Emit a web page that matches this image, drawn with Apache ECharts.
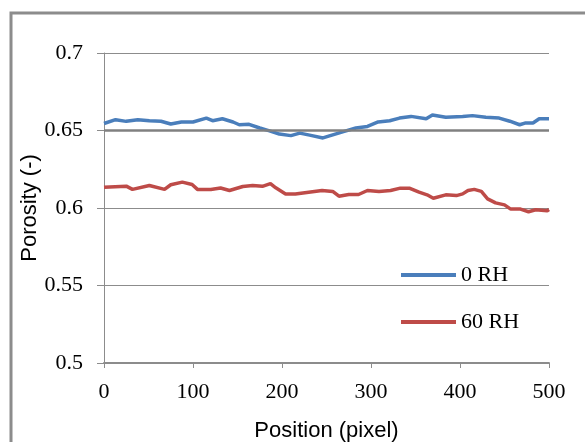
<!DOCTYPE html>
<html>
<head>
<meta charset="utf-8">
<script src="https://cdn.jsdelivr.net/npm/echarts@6/dist/echarts.min.js"></script>
<style>
  html, body { margin: 0; padding: 0; background: #fff; }
  #main { width: 585px; height: 442px; }
</style>
</head>
<body>
<div id="main"></div>
<script>
// values
var seriesNames = ['0 RH', '60 RH'];
var xTicks = [0, 100, 200, 300, 400, 500];
var yTicks = [0.5, 0.55, 0.6, 0.65, 0.7];

var pos0RH = [0, 13, 25, 38, 51, 64, 75, 87, 100, 115, 122, 133, 145, 152, 163, 175, 186, 197, 210, 220,
  231, 246, 257, 270, 283, 296, 308, 321, 332, 345, 362, 369, 384, 403, 414, 429, 444, 456, 467, 473,
  482, 489, 500];
var por0RH = [0.6545, 0.657, 0.6559, 0.657, 0.6563, 0.656, 0.6542, 0.6555, 0.6555, 0.658, 0.6563, 0.6576,
  0.6555, 0.6537, 0.654, 0.6516, 0.6498, 0.6477, 0.6467, 0.6483, 0.647, 0.6452, 0.6472, 0.6494, 0.6516,
  0.6526, 0.6555, 0.6563, 0.658, 0.6591, 0.6576, 0.660, 0.6585, 0.659, 0.6596, 0.6585, 0.658, 0.656,
  0.6537, 0.6548, 0.6548, 0.6576, 0.6576];

var pos60RH = [0, 25, 32, 51, 68, 75, 88, 99, 105, 120, 131, 141, 156, 167, 178, 187, 193, 204, 215, 230,
  245, 257, 264, 275, 286, 296, 309, 322, 333, 343, 354, 363, 370, 384, 396, 403, 409, 416, 424, 431,
  440, 450, 457, 468, 477, 485, 498, 500];
var por60RH = [0.6134, 0.6141, 0.612, 0.6145, 0.612, 0.615, 0.6167, 0.6152, 0.612, 0.612, 0.6129, 0.6113,
  0.6139, 0.6145, 0.614, 0.6157, 0.613, 0.6091, 0.6091, 0.6102, 0.6113, 0.6107, 0.6076, 0.6087, 0.6087,
  0.6113, 0.6107, 0.6113, 0.6128, 0.6128, 0.6102, 0.6085, 0.6063, 0.6085, 0.608, 0.6091, 0.6113, 0.612,
  0.6107, 0.6059, 0.6033, 0.602, 0.5993, 0.5993, 0.5976, 0.5989, 0.5982, 0.599];

function pairs(xs, ys) {
  var out = [];
  for (var i = 0; i < xs.length; i++) out.push([xs[i], ys[i]]);
  return out;
}

var chart = echarts.init(document.getElementById('main'));
var tickFont = { fontFamily: 'Liberation Serif', fontSize: 22, color: '#000' };

chart.setOption({
  animation: false,
  backgroundColor: '#fff',
  graphic: [{
    type: 'rect',
    shape: { x: 11, y: 13, width: 620, height: 480 },
    style: { fill: 'none', stroke: '#8c8c8c', lineWidth: 3 },
    silent: true
  }],
  grid: { left: 104, right: 36, top: 53, bottom: 79, containLabel: false, outerBoundsMode: 'none' },
  legend: {
    data: seriesNames,
    orient: 'vertical',
    left: 401,
    top: 264,
    padding: 0,
    icon: 'rect',
    itemWidth: 55,
    itemHeight: 4,
    itemGap: 25,
    textStyle: { fontFamily: 'Liberation Serif', fontSize: 22, color: '#000' }
  },
  xAxis: {
    type: 'value',
    min: xTicks[0],
    max: xTicks[xTicks.length - 1],
    interval: 100,
    name: 'Position (pixel)',
    nameLocation: 'middle',
    nameGap: 57,
    nameMoveOverlap: false,
    nameTextStyle: { fontFamily: 'Liberation Sans', fontSize: 22, color: '#000' },
    axisLine: { lineStyle: { color: '#8c8c8c', width: 2 } },
    axisTick: { show: true, length: 5, lineStyle: { color: '#8c8c8c' } },
    axisLabel: Object.assign({ margin: 18 }, tickFont),
    splitLine: { show: false }
  },
  yAxis: {
    type: 'value',
    min: yTicks[0],
    max: yTicks[yTicks.length - 1],
    interval: 0.05,
    name: 'Porosity (-)',
    nameLocation: 'middle',
    nameGap: 63,
    nameMoveOverlap: false,
    nameTextStyle: { fontFamily: 'Liberation Sans', fontSize: 22, color: '#000' },
    axisLine: { show: true, lineStyle: { color: '#8c8c8c', width: 1 } },
    axisTick: { show: true, length: 7, lineStyle: { color: '#8c8c8c' } },
    axisLabel: Object.assign({ margin: 21 }, tickFont),
    splitLine: { show: true, lineStyle: { color: '#8c8c8c', width: 1 } }
  },
  series: [{
    name: seriesNames[0],
    type: 'line',
    data: pairs(pos0RH, por0RH),
    showSymbol: false,
    z: 3,
    lineStyle: { color: '#4a7ebb', width: 3.5 },
    itemStyle: { color: '#4a7ebb' }
  }, {
    name: seriesNames[1],
    type: 'line',
    data: pairs(pos60RH, por60RH),
    showSymbol: false,
    z: 2,
    lineStyle: { color: '#be4b48', width: 3.5 },
    itemStyle: { color: '#be4b48' },
    markLine: {
      silent: true,
      symbol: 'none',
      label: { show: false },
      lineStyle: { color: '#808080', width: 2.5, type: 'solid' },
      data: [{ yAxis: yTicks[3] }]
    }
  }]
});
</script>
</body>
</html>
